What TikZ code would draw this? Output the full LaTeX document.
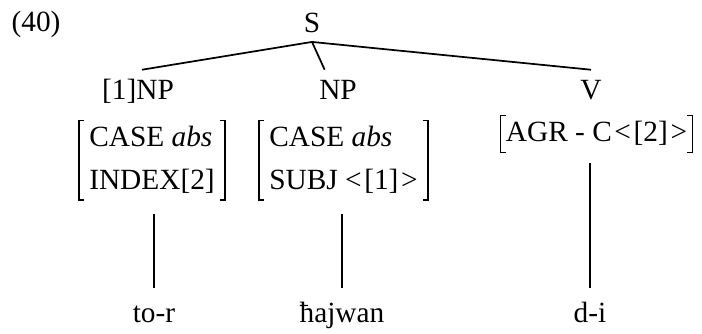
\documentclass[tikz,border=0pt]{standalone}
\usepackage{fontspec}
\setmainfont{Liberation Serif}
\usetikzlibrary{positioning}
\tikzset{
  every node/.style={font=\fontsize{22}{27}\selectfont},
  cat/.style={inner sep=2pt,anchor=base,text height=15.5pt,text depth=4.5pt},
  avm/.style={inner xsep=7.5pt,inner ysep=0pt},
  word/.style={cat},
  branch/.style={line width=1.3pt},
  bracket/.style={line width=0.9pt},
  leaf/.style={branch,shorten <=10.5pt,shorten >=8pt},
}
\begin{document}
\begin{tikzpicture}[x=0.75pt,y=-0.75pt]
  \useasboundingbox (0,0) rectangle (702,334);
  \node[cat] (num) at (36,32) {(40)};
  \node[cat] (s) at (312,33) {S};
  \node[cat] (np1) at (138,100) {[1]NP};
  \node[cat] (np2) at (338,100) {NP};
  \node[cat] (v) at (591,100) {V};
  \draw[branch] (s.south) -- ([shift={(3pt,5pt)}]np1.north);
  \draw[branch] (s.south) -- ([shift={(-10pt,5pt)}]np2.north);
  \draw[branch] (s.south) -- ([yshift=5pt]v.north);

  % feature structures
  \node[avm] (avm1) at (152,160.5) {\begin{tabular}{@{}l@{}}CASE \textit{abs}\\[5pt]INDEX[2]\end{tabular}};
  \node[avm] (avm2) at (343.5,160.5) {\begin{tabular}{@{}l@{}}CASE \textit{abs}\\[5pt]SUBJ <\kern2pt[1]\kern2pt>\end{tabular}};
  \node[avm,inner xsep=4pt,minimum height=27pt,text height=15.5pt,text depth=4.5pt] (avm3) at (596.5,134) {AGR - C\kern2pt<\kern2pt[2]\kern2pt>};
  \draw[bracket] ([xshift=4pt]avm1.north west) -- (avm1.north west) -- (avm1.south west) -- ([xshift=4pt]avm1.south west);
  \draw[bracket] ([xshift=-4pt]avm1.north east) -- (avm1.north east) -- (avm1.south east) -- ([xshift=-4pt]avm1.south east);
  \draw[bracket] ([xshift=4pt]avm2.north west) -- (avm2.north west) -- (avm2.south west) -- ([xshift=4pt]avm2.south west);
  \draw[bracket] ([xshift=-4pt]avm2.north east) -- (avm2.north east) -- (avm2.south east) -- ([xshift=-4pt]avm2.south east);
  \draw[bracket] ([xshift=4pt]avm3.north west) -- (avm3.north west) -- (avm3.south west) -- ([xshift=4pt]avm3.south west);
  \draw[bracket] ([xshift=-4pt]avm3.north east) -- (avm3.north east) -- (avm3.south east) -- ([xshift=-4pt]avm3.south east);

  \node[word] (w1) at (154,322) {to-r};
  \node[word] (w2) at (342,322) {ħajwan};
  \node[word] (w3) at (590,322) {d-i};
  \draw[leaf] (avm1.south -| w1.north) -- (w1.north);
  \draw[leaf] (avm2.south -| w2.north) -- (w2.north);
  \draw[leaf,shorten <=8pt] (avm3.south -| w3.north) -- (w3.north);
\end{tikzpicture}
\end{document}
